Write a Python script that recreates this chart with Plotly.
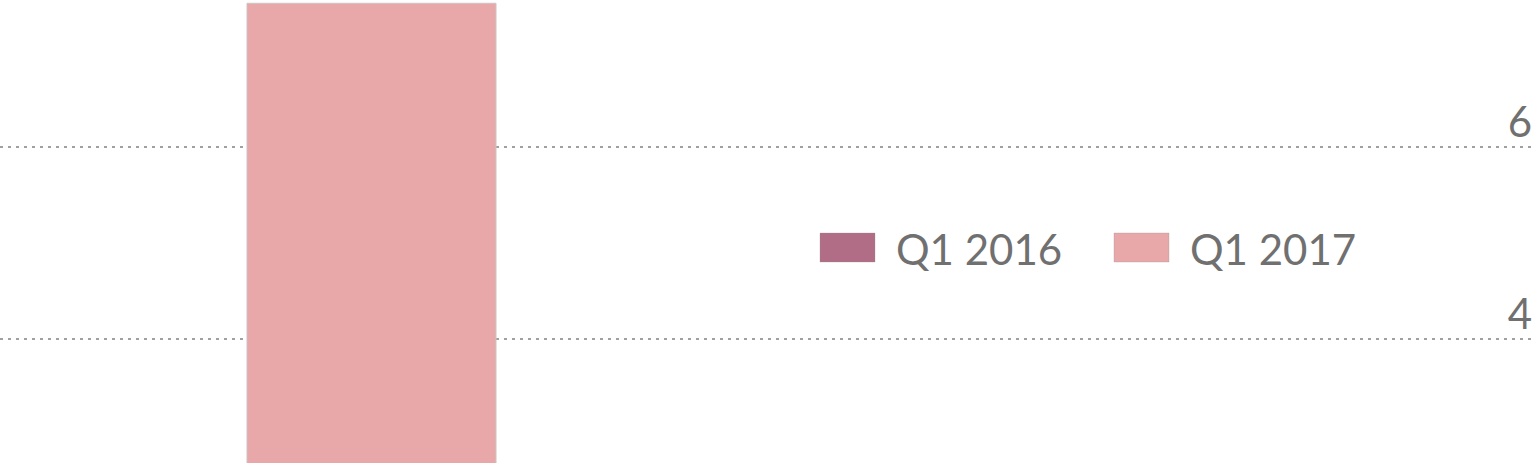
import plotly.graph_objects as go

# data (only one group is visible)
categories = ["Q1"]
series_names = ["Q1 2016", "Q1 2017"]
q1_2016 = [2.5]   # bar sits below the visible window
q1_2017 = [7.5]
tick_vals = [4, 6]
tick_text = ["4", "6"]

colors = ["#b06d85", "#e8a7a9"]
font_color = "#707070"
W, H = 1535, 463

fig = go.Figure()
for name, vals, col in zip(series_names, [q1_2016, q1_2017], colors):
    fig.add_trace(go.Bar(x=categories, y=vals, name=name,
                         marker=dict(color=col, line=dict(color="#cdc4c4", width=1)),
                         showlegend=False))

# hand-made legend with wide swatches, like the original
legend_x = [820, 1114]
for name, col, x in zip(series_names, colors, legend_x):
    fig.add_shape(type="rect", xref="paper", yref="paper",
                  x0=x / W, x1=(x + 55) / W, y0=1 - 262 / H, y1=1 - 233 / H,
                  fillcolor=col, line=dict(color="rgba(150,150,150,0.3)", width=1))
    fig.add_annotation(text=name, xref="paper", yref="paper",
                       x=(x + 74) / W, y=1 - 249 / H, xanchor="left", yanchor="middle",
                       showarrow=False, font=dict(size=42, color=font_color))

fig.update_layout(
    width=W, height=H,
    margin=dict(l=0, r=0, t=0, b=0),
    paper_bgcolor="white", plot_bgcolor="white",
    barmode="group", bargap=0.5, bargroupgap=0,
    font=dict(family="Lato", color=font_color),
    xaxis=dict(range=[-247 / 996, (W - 247) / 996], showticklabels=False,
               showgrid=False, zeroline=False, showline=False, ticks=""),
    yaxis=dict(side="right", range=[2.711, 7.534],
               tickvals=tick_vals, ticktext=tick_text,
               ticklabelposition="inside", ticklabelshift=-25, ticklabelstandoff=0,
               ticks="", tickfont=dict(size=42, color=font_color),
               showgrid=True, gridcolor="#a0a0a0", gridwidth=2, griddash="3px,5px",
               zeroline=False, showline=False),
)

# drop the default page margin so the figure sits at the window corner
fig.write_html("out.html", config={"displayModeBar": False},
               post_script="document.body.style.margin='0';")
